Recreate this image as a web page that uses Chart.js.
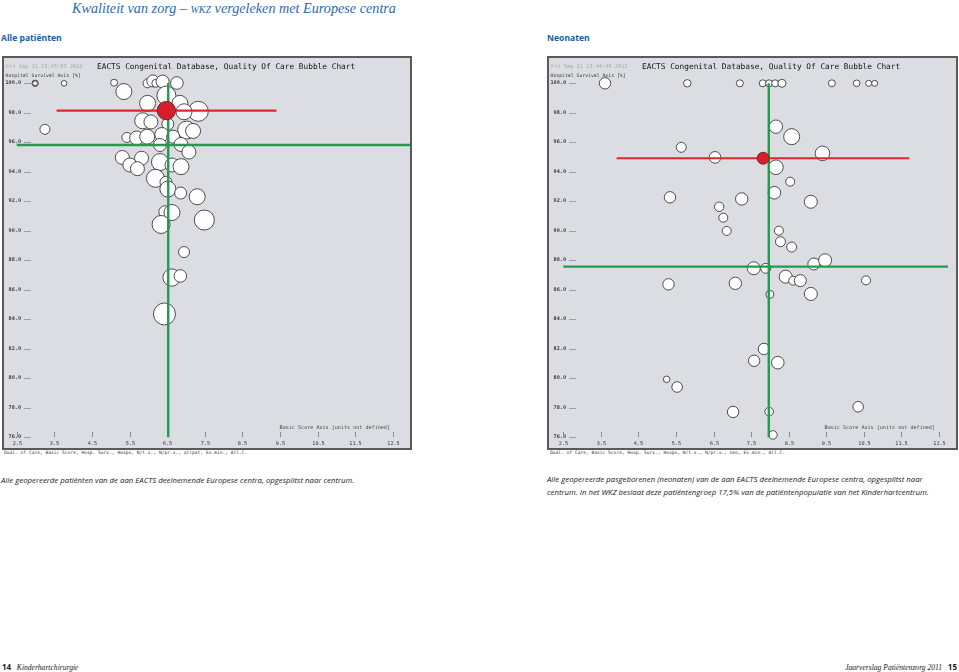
<!DOCTYPE html>
<html>
<head>
<meta charset="utf-8">
<script src="https://cdn.jsdelivr.net/npm/chart.js@4.4.0/dist/chart.umd.min.js"></script>
<style>
	body { margin: 0; width: 959px; height: 672px; position: relative; background: #fff; overflow: hidden; font-family: "Open Sans", sans-serif; }
	.abs { position: absolute; white-space: nowrap; }
	.frame { position: absolute; top: 56px; height: 390px; border: 2px solid #5a5a5a; background: #dcdde2; }
	.frame canvas { position: absolute; left: 0; top: 0; }
	.title { left: 72px; top: 0px; font: italic 14.2px "Liberation Serif", serif; color: #2c6aad; }
	.head { top: 32px; font: bold 8.6px "Open Sans", sans-serif; color: #1d5c9e; }
	.legend { top: 450px; font: 4.6px "DejaVu Sans Mono", monospace; color: #333; }
	.cap { font: italic 7.8px "Open Sans", sans-serif; color: #222; }
	.foot { top: 661px; font: italic 7.6px "Liberation Serif", serif; color: #222; }
	.foot b { font: bold 8px "Open Sans", sans-serif; font-style: normal; }
</style>
</head>
<body>
<div class="abs title">Kwaliteit van zorg – <span style="font-variant: small-caps;">wkz</span> vergeleken met Europese centra</div>
<div class="abs head" style="left:1px;">Alle patiënten</div>
<div class="abs head" style="left:547px;">Neonaten</div>

<div class="frame" style="left:2px; width:406px;"><canvas id="allChart" width="406" height="390"></canvas></div>
<div class="frame" style="left:547px; width:407px;"><canvas id="neoChart" width="407" height="390"></canvas></div>

<div class="abs legend" style="left:4px;">Qual. of Care, Basic Score, Hosp. Surv., Hosps, N/t.s., N/pr.s., allpat, Ex.min., All.C.</div>
<div class="abs legend" style="left:550px;">Qual. of Care, Basic Score, Hosp. Surv., Hosps, N/t.s., N/pr.s., neo, Ex.min., All.C.</div>

<div class="abs cap" style="left:1px; top:475px;">Alle geopereerde patiënten van de aan EACTS deelnemende Europese centra, opgesplitst naar centrum.</div>
<div class="abs cap" style="left:547px; top:473px; line-height:13px;">Alle geopereerde pasgeborenen (neonaten) van de aan EACTS deelnemende Europese centra, opgesplitst naar<br>centrum. In het WKZ beslaat deze patiëntengroep 17,5% van de patiëntenpopulatie van het Kinderhartcentrum.</div>

<div class="abs foot" style="left:2px;"><b>14</b>&nbsp;&nbsp;&nbsp;Kinderhartchirurgie</div>
<div class="abs foot" style="right:2px;">Jaarverslag Patiëntenzorg 2011&nbsp;&nbsp;&nbsp;<b>15</b></div>

<script>
// axis ticks
const xTicks = [2.5, 3.5, 4.5, 5.5, 6.5, 7.5, 8.5, 9.5, 10.5, 11.5, 12.5];
const yTicks = [76, 78, 80, 82, 84, 86, 88, 90, 92, 94, 96, 98, 100];

// all patients: basic score, hospital survival, bubble size
const allX = [2.99, 2.99, 3.76, 5.09, 5.98, 6.12, 6.20, 6.38, 6.76, 5.35, 6.48, 5.98, 6.84, 7.33, 6.95, 5.85, 6.07, 6.52, 7.02, 7.19, 3.25, 5.43, 5.69, 5.97, 6.36, 6.66, 6.31, 6.87, 7.08, 5.31, 5.82, 5.51, 5.71, 6.31, 6.63, 6.87, 6.19, 6.47, 6.52, 6.86, 7.30, 6.44, 6.63, 7.49, 6.34, 6.95, 6.62, 6.85, 6.43];
const allY = [100, 100, 100, 100.04, 100, 100.16, 100, 100.12, 100.02, 99.44, 99.17, 98.64, 98.64, 98.10, 98.07, 97.46, 97.38, 97.24, 96.83, 96.77, 96.88, 96.33, 96.29, 96.38, 96.53, 96.38, 95.82, 95.85, 95.34, 94.97, 94.92, 94.46, 94.21, 94.66, 94.46, 94.35, 93.56, 93.29, 92.83, 92.56, 92.31, 91.29, 91.24, 90.73, 90.43, 88.56, 86.83, 86.94, 84.36];
const allR = [3.2, 2.4, 2.8, 3.5, 4.5, 6, 4, 6.5, 6.3, 8, 9.5, 8, 8, 10, 8, 8, 7, 6, 9, 7.5, 5, 5, 7, 7.5, 7, 6.5, 6.5, 7, 7, 7, 7, 7, 7, 8.5, 7, 8, 9, 6, 8, 6, 8, 6, 8, 10, 9, 5.5, 8.7, 6.3, 11];
const allWkz = [6.48, 98.15, 9.2];
const allWkzSpan = [3.56, 9.41];
const allMean = [6.53, 95.82];
const allMeanSpan = [2.5, 13];

// neonates
const neoX = [3.61, 5.80, 7.20, 7.81, 7.98, 8.14, 8.32, 9.65, 10.31, 10.63, 10.79, 8.16, 8.58, 5.64, 6.54, 9.40, 8.16, 8.54, 5.34, 7.25, 8.12, 9.09, 6.65, 6.76, 6.85, 8.24, 8.28, 8.58, 7.57, 7.89, 9.17, 9.47, 5.30, 7.08, 8.42, 8.62, 8.81, 10.56, 8.00, 9.09, 7.84, 7.58, 8.21, 5.25, 5.53, 7.02, 7.98, 10.35, 8.08];
const neoY = [100, 100, 100, 100, 100, 100, 100, 100, 100, 100, 100, 97.06, 96.38, 95.66, 94.98, 95.25, 94.31, 93.33, 92.27, 92.16, 92.58, 91.97, 91.63, 90.89, 89.99, 90.01, 89.26, 88.90, 87.46, 87.46, 87.75, 88.0, 86.37, 86.44, 86.89, 86.62, 86.62, 86.64, 85.69, 85.72, 81.99, 81.19, 81.06, 79.93, 79.41, 77.72, 77.74, 78.07, 76.16];
const neoR = [5.7, 3.7, 3.5, 3.5, 3.5, 3.5, 4, 3.5, 3.3, 3, 3, 6.7, 8, 5, 5.8, 7.3, 7.3, 4.5, 5.7, 6.2, 6.3, 6.5, 4.7, 4.5, 4.5, 4.5, 5, 5, 6.5, 5, 6, 6.5, 5.7, 6.2, 6.5, 4.5, 6, 4.5, 4, 6.5, 5.7, 5.7, 6.3, 3.3, 5.3, 5.7, 4.3, 5.3, 4.3];
const neoWkz = [7.82, 94.92, 6];
const neoWkzSpan = [3.92, 11.71];
const neoMean = [7.97, 87.57];
const neoMeanSpan = [2.5, 12.74];

const mono = '"DejaVu Sans Mono", monospace';

// frame texts and axes, placed through the chart scales
const frameLabels = {
	id: 'frameLabels',
	beforeDatasetsDraw(chart, args, opts) {
		const ctx = chart.ctx;
		const sx = chart.scales.x, sy = chart.scales.y;
		ctx.save();
		ctx.textBaseline = 'middle';
		ctx.textAlign = 'left';
		ctx.font = '5.3px ' + mono;
		ctx.fillStyle = '#a8a8a8';
		ctx.fillText(opts.stamp, 2, 8.5);
		ctx.font = '7.8px ' + mono;
		ctx.fillStyle = '#111';
		ctx.fillText('EACTS Congenital Database, Quality Of Care Bubble Chart', 93, 8.5);
		ctx.font = '4.8px ' + mono;
		ctx.fillStyle = '#333';
		ctx.fillText('Hospital Survival Axis [%]', 1.5, 17.5);

		ctx.lineWidth = 1;
		ctx.textAlign = 'right';
		ctx.font = 'bold 5.2px ' + mono;
		yTicks.forEach(v => {
			const py = Math.round(sy.getPixelForValue(v));
			ctx.fillStyle = '#3a3a3a';
			ctx.fillText(v.toFixed(1), 17, py);
			ctx.strokeStyle = '#9a9abb';
			ctx.beginPath();
			ctx.moveTo(20, py + 0.5);
			ctx.lineTo(27, py + 0.5);
			ctx.stroke();
		});

		ctx.textAlign = 'center';
		ctx.font = '5.2px ' + mono;
		xTicks.forEach(v => {
			const px = Math.round(sx.getPixelForValue(v)) + 0.5;
			ctx.strokeStyle = '#8a8a8a';
			ctx.beginPath();
			ctx.moveTo(px, 374);
			ctx.lineTo(px, 379);
			ctx.stroke();
			ctx.fillStyle = '#333';
			ctx.fillText(v.toFixed(1), px, 385.5);
		});

		ctx.textAlign = 'right';
		ctx.font = '5.1px ' + mono;
		ctx.fillStyle = '#444';
		ctx.fillText('Basic Score Axis [units not defined]', 386, 370);
		ctx.restore();
	}
};

class BubbleChart {
	constructor(args) {
		this.el = document.getElementById(args.id).getContext('2d');
		this.xs = args.xs;
		this.ys = args.ys;
		this.rs = args.rs;
		this.wkz = args.wkz;
		this.wkzSpan = args.wkzSpan;
		this.mean = args.mean;
		this.meanSpan = args.meanSpan;
		this.xRange = args.xRange;
		this.stamp = args.stamp;
		this.init();
	}
	init() {
		this.render();
		return this;
	}
	render() {
		const green = '#1f9d4d';
		const red = '#e1252e';
		let bubbles = this.xs.map((x, i) => ({ x: x, y: this.ys[i], r: this.rs[i] }));
		let data = {
			datasets: [
				{
					data: bubbles,
					backgroundColor: '#ffffff',
					borderColor: '#3a3a3a',
					borderWidth: 0.9,
					order: 3
				},
				{
					type: 'line',
					data: [{ x: this.mean[0], y: 100 }, { x: this.mean[0], y: 76 }],
					borderColor: green,
					borderWidth: 2.4,
					pointRadius: 0,
					order: 2
				},
				{
					type: 'line',
					data: [{ x: this.meanSpan[0], y: this.mean[1] }, { x: this.meanSpan[1], y: this.mean[1] }],
					borderColor: green,
					borderWidth: 2.4,
					pointRadius: 0,
					order: 2
				},
				{
					type: 'line',
					data: [{ x: this.wkzSpan[0], y: this.wkz[1] }, { x: this.wkzSpan[1], y: this.wkz[1] }],
					borderColor: red,
					borderWidth: 2.2,
					pointRadius: 0,
					order: 2
				},
				{
					data: [{ x: this.wkz[0], y: this.wkz[1], r: this.wkz[2] }],
					backgroundColor: '#d51f2c',
					borderColor: '#7a1b1b',
					borderWidth: 0.9,
					order: 1
				}
			]
		};
		let options = {
			responsive: false,
			animation: false,
			events: [],
			layout: { padding: 0, autoPadding: false },
			plugins: {
				legend: { display: false },
				tooltip: { enabled: false },
				frameLabels: { stamp: this.stamp }
			},
			scales: {
				x: { type: 'linear', display: false, min: this.xRange[0], max: this.xRange[1] },
				y: { type: 'linear', display: false, min: 75.275, max: 101.715 }
			}
		};
		this.chart = new Chart(this.el, {
			type: 'bubble',
			data: data,
			options: options,
			plugins: [frameLabels]
		});
		return this;
	}
}

new BubbleChart({
	id: 'allChart', xs: allX, ys: allY, rs: allR,
	wkz: allWkz, wkzSpan: allWkzSpan, mean: allMean, meanSpan: allMeanSpan,
	xRange: [2.162, 12.960], stamp: 'Fri Sep 21 13:43:03 2012'
});
new BubbleChart({
	id: 'neoChart', xs: neoX, ys: neoY, rs: neoR,
	wkz: neoWkz, wkzSpan: neoWkzSpan, mean: neoMean, meanSpan: neoMeanSpan,
	xRange: [2.119, 12.955], stamp: 'Fri Sep 21 13:44:46 2012'
});
</script>
</body>
</html>
